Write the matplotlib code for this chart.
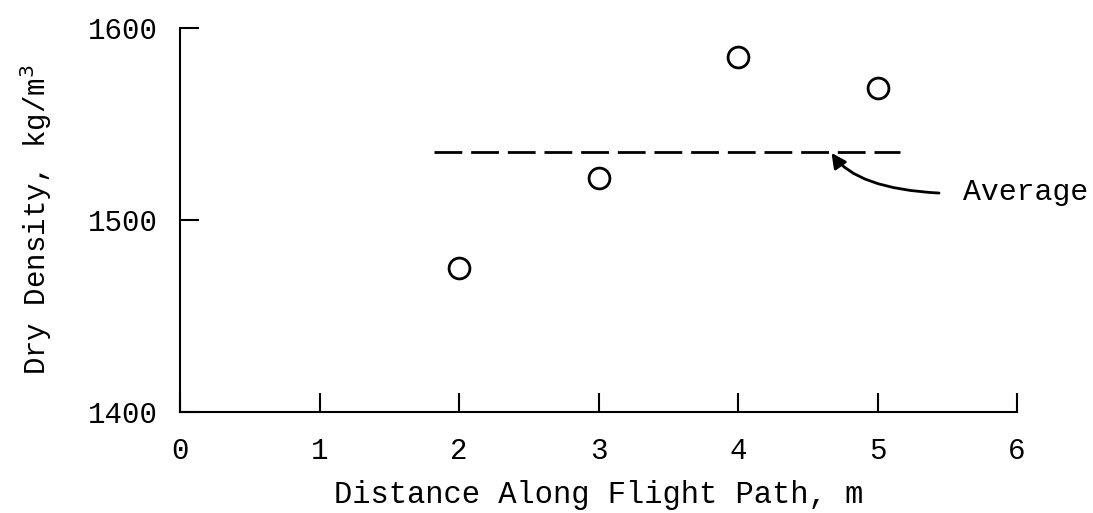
import numpy as np
import matplotlib
matplotlib.use("Agg")
from matplotlib import pyplot as plt

# data
distance = [2, 3, 4, 5]
density = [1475, 1522, 1585, 1569]
avg_density = 1535.5
avg_start, avg_end = 1.82, 5.16

x_ticks = [0, 1, 2, 3, 4, 5, 6]
y_ticks = [1400, 1500, 1600]

plt.rcParams['font.family'] = ['Liberation Mono', 'DejaVu Sans Mono']

fig = plt.figure(figsize=(10.93, 5.13), dpi=100)
ax = fig.add_axes([0.1647, 0.197, 0.7658, 0.748])

ax.plot(distance, density, linestyle='none', marker='o', markersize=15,
        markerfacecolor='white', markeredgecolor='black', markeredgewidth=2)
ax.plot([avg_start, avg_end], [avg_density, avg_density], color='black',
        linewidth=2, dashes=(10, 3.2))

ax.annotate("Average", xy=(4.67, avg_density - 0.5), xytext=(5.61, 1514.5),
            fontsize=21.5, ha='left', va='center',
            arrowprops=dict(arrowstyle='-|>', color='black', lw=2,
                            mutation_scale=22, shrinkA=15, shrinkB=0,
                            relpos=(0, 0.45),
                            connectionstyle='angle3,angleA=0,angleB=-55'))

ax.set_xlim(0, 6)
ax.set_ylim(1400, 1600)
ax.set_xticks(x_ticks)
ax.set_yticks(y_ticks)
ax.tick_params(direction='in', length=14, width=1.5, labelsize=21)
ax.tick_params(axis='x', pad=18)
ax.tick_params(axis='y', pad=16)

ax.spines['top'].set_visible(False)
ax.spines['right'].set_visible(False)
ax.spines['left'].set_linewidth(1.5)
ax.spines['bottom'].set_linewidth(1.5)

ax.set_xlabel("Distance Along Flight Path, m", fontsize=22, labelpad=11)
ax.set_ylabel("Dry Density, kg/m$^3$", fontsize=21, labelpad=24)

fig.savefig("out.png", dpi=100)
